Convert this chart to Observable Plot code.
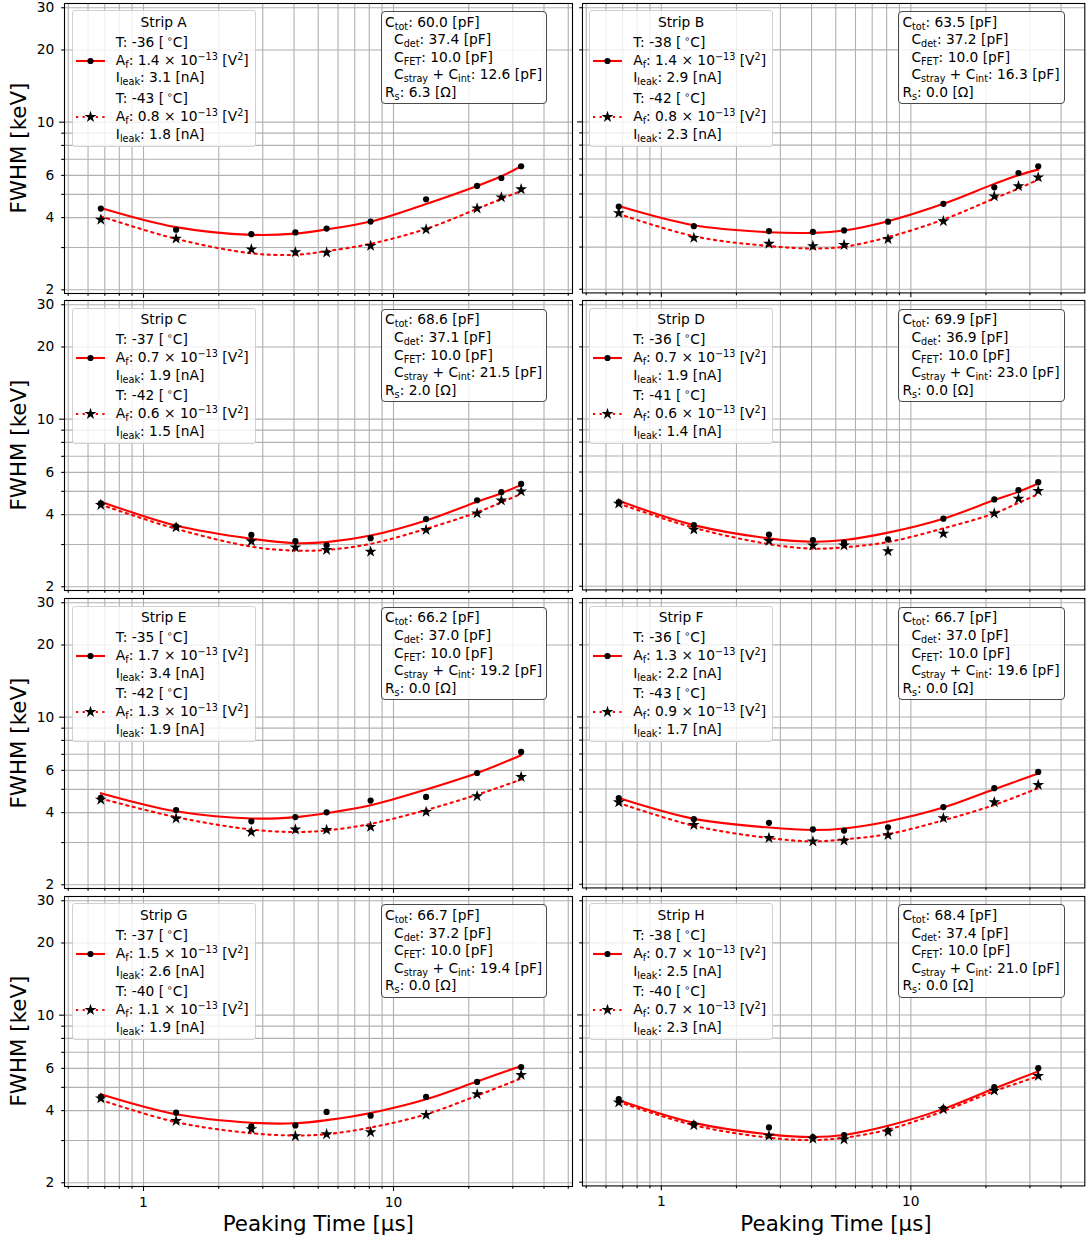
<!DOCTYPE html>
<html><head><meta charset="utf-8">
<script src="https://cdn.jsdelivr.net/npm/d3@7"></script>
<script src="https://cdn.jsdelivr.net/npm/@observablehq/plot@0.6"></script>
<style>
body{margin:0;background:#fff;}
#fig{position:relative;width:1086px;height:1243px;overflow:hidden;background:#fff;font-family:"DejaVu Sans",sans-serif;color:#000;}
.panel{position:absolute;}
.leg{position:absolute;box-sizing:border-box;background:rgba(255,255,255,0.8);border:1px solid #d0d0d0;border-radius:3px;}
.cbox{position:absolute;box-sizing:border-box;background:rgba(255,255,255,0.85);border:1px solid #4a4a4a;border-radius:4px;}
.t{position:absolute;font-size:13.8px;line-height:18px;height:18px;white-space:nowrap;}
.t sub{font-size:0.7em;vertical-align:-0.3em;line-height:0;}
.t sup{font-size:0.7em;vertical-align:0.5em;line-height:0;}
.ylab{position:absolute;font-size:21.4px;line-height:24px;transform:translate(-50%,-50%) rotate(-90deg);white-space:nowrap;}
.xlab{position:absolute;font-size:21.4px;line-height:24px;transform:translate(-50%,-50%);white-space:nowrap;}
.hd{position:absolute;overflow:visible;}
</style></head><body><div id="fig"></div>
<script>
// ---------------- data ----------------
const peakingTime10 = [0.675, 1.35, 2.7, 4.05, 5.4, 8.1, 13.5, 21.6, 27, 32.4];
const peakingTime9  = [0.675, 1.35, 2.7, 4.05, 5.4, 8.1, 13.5, 21.6, 32.4];

const measWarmA = [4.36, 3.56, 3.41, 3.47, 3.60, 3.85, 4.77, 5.42, 5.85, 6.55];
const measColdA = [3.92, 3.27, 2.95, 2.87, 2.86, 3.05, 3.57, 4.37, 4.86, 5.25];
const fitWarmA  = [4.39, 3.65, 3.39, 3.43, 3.57, 3.85, 4.56, 5.42, 5.95, 6.55];
const fitColdA  = [4.05, 3.26, 2.84, 2.80, 2.90, 3.11, 3.59, 4.35, 4.79, 5.17];

const measWarmB = [4.43, 3.67, 3.50, 3.47, 3.52, 3.83, 4.55, 5.33, 6.12, 6.53];
const measColdB = [4.16, 3.28, 3.10, 3.03, 3.06, 3.24, 3.85, 4.89, 5.39, 5.87];
const fitWarmB  = [4.45, 3.70, 3.46, 3.44, 3.52, 3.85, 4.55, 5.51, 5.99, 6.32];
const fitColdB  = [4.13, 3.33, 3.03, 2.96, 3.01, 3.30, 3.91, 4.79, 5.27, 5.74];

const measWarmC = [4.46, 3.57, 3.29, 3.10, 2.98, 3.19, 3.83, 4.59, 4.96, 5.37];
const measColdC = [4.39, 3.54, 3.10, 2.92, 2.85, 2.80, 3.45, 4.05, 4.58, 5.00];
const fitWarmC  = [4.53, 3.60, 3.17, 3.04, 3.07, 3.27, 3.78, 4.53, 4.91, 5.32];
const fitColdC  = [4.40, 3.49, 2.94, 2.83, 2.85, 3.02, 3.49, 4.09, 4.50, 4.88];

const measWarmD = [4.49, 3.60, 3.29, 3.12, 3.04, 3.14, 3.83, 4.61, 5.04, 5.44];
const measColdD = [4.43, 3.45, 3.09, 2.96, 2.96, 2.80, 3.32, 4.03, 4.64, 5.00];
const fitWarmD  = [4.55, 3.60, 3.17, 3.07, 3.12, 3.35, 3.83, 4.58, 4.96, 5.37];
const fitColdD  = [4.43, 3.51, 3.00, 2.87, 2.91, 3.06, 3.49, 4.03, 4.46, 4.85];

const measWarmE = [4.61, 4.10, 3.68, 3.83, 4.01, 4.49, 4.65, 5.85, 7.16];
const measColdE = [4.53, 3.78, 3.32, 3.40, 3.39, 3.49, 4.03, 4.68, 5.63];
const fitWarmE  = [4.82, 4.05, 3.78, 3.83, 3.98, 4.29, 4.99, 5.85, 6.94];
const fitColdE  = [4.58, 3.83, 3.40, 3.32, 3.37, 3.59, 4.10, 4.75, 5.49];

const measWarmF = [4.58, 3.74, 3.61, 3.39, 3.35, 3.46, 4.20, 5.04, 5.89];
const measColdF = [4.40, 3.54, 3.12, 3.02, 3.04, 3.21, 3.78, 4.40, 5.20];
const fitWarmF  = [4.58, 3.75, 3.45, 3.37, 3.42, 3.66, 4.18, 4.99, 5.80];
const fitColdF  = [4.37, 3.51, 3.12, 3.02, 3.08, 3.24, 3.70, 4.29, 5.04];

const measWarmG = [4.56, 3.92, 3.44, 3.47, 3.95, 3.81, 4.56, 5.27, 6.08];
const measColdG = [4.50, 3.62, 3.35, 3.13, 3.19, 3.25, 3.84, 4.68, 5.63];
const fitWarmG  = [4.68, 3.86, 3.56, 3.54, 3.65, 3.91, 4.46, 5.29, 6.14];
const fitColdG  = [4.43, 3.58, 3.22, 3.15, 3.19, 3.40, 3.86, 4.62, 5.45];

const measWarmH = [4.45, 3.51, 3.39, 3.09, 3.15, 3.29, 4.07, 4.99, 5.99];
const measColdH = [4.31, 3.46, 3.13, 3.04, 3.02, 3.25, 4.04, 4.83, 5.56];
const fitWarmH  = [4.40, 3.54, 3.17, 3.09, 3.15, 3.44, 4.05, 4.93, 5.81];
const fitColdH  = [4.33, 3.46, 3.07, 3.00, 3.07, 3.32, 3.96, 4.80, 5.54];

const stripNames = ["Strip A","Strip B","Strip C","Strip D","Strip E","Strip F","Strip G","Strip H"];
const tempWarm   = ["-36","-38","-37","-36","-35","-36","-37","-38"];
const tempCold   = ["-43","-42","-42","-41","-42","-43","-40","-40"];
const afWarm     = ["1.4","1.4","0.7","0.7","1.7","1.3","1.5","0.7"];
const afCold     = ["0.8","0.8","0.6","0.6","1.3","0.9","1.1","0.7"];
const ileakWarm  = ["3.1","2.9","1.9","1.9","3.4","2.2","2.6","2.5"];
const ileakCold  = ["1.8","2.3","1.5","1.4","1.9","1.7","1.9","2.3"];
const cTot       = ["60.0","63.5","68.6","69.9","66.2","66.7","66.7","68.4"];
const cDet       = ["37.4","37.2","37.1","36.9","37.0","37.0","37.2","37.4"];
const cFet       = ["10.0","10.0","10.0","10.0","10.0","10.0","10.0","10.0"];
const cStrayInt  = ["12.6","16.3","21.5","23.0","19.2","19.6","19.4","21.0"];
const rSeries    = ["6.3","0.0","2.0","0.0","0.0","0.0","0.0","0.0"];

const xMajorTicks = [1, 10];
const xMinorTicks = [0.5, 0.6, 0.7, 0.8, 0.9, 2, 3, 4, 5, 6, 7, 8, 9, 20, 30, 40, 50];
const yMajorTicks = [10];
const yMinorTicks = [2, 3, 4, 5, 6, 7, 8, 9, 20, 30];
const yTickLabels = [2, 4, 6, 8, 10, 20, 30];
const xTickLabels = [1, 10];

// -------------- layout ---------------
const frameLeft = [64.3, 581.7];
const frameWidth = [508, 503.3];
const frameTop0 = 2.6, rowStep = 297.8, frameHeight = 290;
const xDomains = [[0.483, 52], [0.483, 49.8]];
const yDomain = [1.93, 31.25];
const gridColor = "#b0b0b0";
const dotR = 3.1, starR = 3.7, dotted = "2.2,4.4";

const strips = [
  {times: peakingTime10, mw: measWarmA, mc: measColdA, fw: fitWarmA, fc: fitColdA},
  {times: peakingTime10, mw: measWarmB, mc: measColdB, fw: fitWarmB, fc: fitColdB},
  {times: peakingTime10, mw: measWarmC, mc: measColdC, fw: fitWarmC, fc: fitColdC},
  {times: peakingTime10, mw: measWarmD, mc: measColdD, fw: fitWarmD, fc: fitColdD},
  {times: peakingTime9,  mw: measWarmE, mc: measColdE, fw: fitWarmE, fc: fitColdE},
  {times: peakingTime9,  mw: measWarmF, mc: measColdF, fw: fitWarmF, fc: fitColdF},
  {times: peakingTime9,  mw: measWarmG, mc: measColdG, fw: fitWarmG, fc: fitColdG},
  {times: peakingTime9,  mw: measWarmH, mc: measColdH, fw: fitWarmH, fc: fitColdH}
];

const fig = document.getElementById("fig");
const toRows = (ts, vs) => ts.map((t, k) => ({t, fwhm: vs[k]}));

function addText(html, left, cy, cls = "t") {
  const d = document.createElement("div");
  d.className = cls;
  d.innerHTML = html;
  d.style.left = left + "px";
  d.style.top = (cy - 9) + "px";
  fig.appendChild(d);
  return d;
}

function addHandle(x, cy, isDotted, star) {
  const svg = d3.create("svg").attr("class", "hd").attr("width", 40).attr("height", 16)
    .style("left", (x - 2) + "px").style("top", (cy - 8) + "px");
  svg.append("line").attr("x1", 2).attr("x2", 31).attr("y1", 8).attr("y2", 8)
    .attr("stroke", "red").attr("stroke-width", 2.1)
    .attr("stroke-dasharray", isDotted ? dotted : null);
  if (star) {
    svg.append("path").attr("transform", "translate(16.5,8)")
      .attr("d", d3.symbol(d3.symbolStar, Math.PI * starR * starR)()).attr("fill", "black");
  } else {
    svg.append("circle").attr("cx", 16.5).attr("cy", 8).attr("r", dotR).attr("fill", "black");
  }
  fig.appendChild(svg.node());
}

strips.forEach((s, i) => {
  const col = i % 2, row = Math.floor(i / 2);
  const fl = frameLeft[col], fw = frameWidth[col];
  const ft = frameTop0 + row * rowStep, fh = frameHeight;
  const ml = col === 0 ? 62 : 10, mr = 2, mt = 4, mb = 30;
  const xd = xDomains[col];
  const inX = v => v >= xd[0] && v <= xd[1];
  const bottomRow = row === 3;

  const chart = Plot.plot({
    width: ml + fw + mr, height: mt + fh + mb,
    marginLeft: ml, marginRight: mr, marginTop: mt, marginBottom: mb,
    style: {background: "transparent", overflow: "visible", fontFamily: "DejaVu Sans", fontSize: "13.8px", color: "black"},
    x: {type: "log", domain: xd, label: null},
    y: {type: "log", domain: yDomain, label: null},
    marks: [
      Plot.gridX(xMajorTicks.concat(xMinorTicks).filter(inX), {stroke: gridColor, strokeOpacity: 1, strokeWidth: 1.1}),
      Plot.gridY(yMajorTicks.concat(yMinorTicks), {stroke: gridColor, strokeOpacity: 1, strokeWidth: 1.1}),
      Plot.line(toRows(s.times, s.fw), {x: "t", y: "fwhm", stroke: "red", strokeWidth: 2.1, curve: "catmull-rom"}),
      Plot.line(toRows(s.times, s.fc), {x: "t", y: "fwhm", stroke: "red", strokeWidth: 2.1, strokeDasharray: dotted, curve: "catmull-rom"}),
      Plot.dot(toRows(s.times, s.mw), {x: "t", y: "fwhm", r: dotR, fill: "black", symbol: "circle"}),
      Plot.dot(toRows(s.times, s.mc), {x: "t", y: "fwhm", r: starR, fill: "black", symbol: "star"}),
      Plot.frame({stroke: "black", strokeWidth: 1.1}),
      Plot.axisY(yMajorTicks, {tickSize: 4.9, tickPadding: 5.4, strokeWidth: 1.1, label: null,
        tickFormat: d => (col === 0 && yTickLabels.includes(d)) ? String(d) : ""}),
      Plot.axisY(yMinorTicks, {tickSize: 2.8, tickPadding: 7.5, strokeWidth: 1.1, label: null,
        tickFormat: d => (col === 0 && yTickLabels.includes(d)) ? String(d) : ""}),
      Plot.axisX(xMajorTicks.filter(inX), {tickSize: 4.9, tickPadding: 5.4, strokeWidth: 1.1, label: null,
        tickFormat: d => (bottomRow && xTickLabels.includes(d)) ? String(d) : ""}),
      Plot.axisX(xMinorTicks.filter(inX), {tickSize: 2.8, tickPadding: 5, strokeWidth: 1.1, label: null,
        tickFormat: () => ""})
    ]
  });
  const wrap = document.createElement("div");
  wrap.className = "panel";
  wrap.style.left = (fl - ml) + "px";
  wrap.style.top = (ft - mt) + "px";
  wrap.appendChild(chart);
  fig.appendChild(wrap);

  // legend box (left)
  const lg = document.createElement("div");
  lg.className = "leg";
  Object.assign(lg.style, {left: (fl + 7.4) + "px", top: (ft + 7.3) + "px", width: "184.3px", height: "136.7px"});
  fig.appendChild(lg);
  const tl = addText(stripNames[i], fl + 99.4, ft + 19);
  tl.style.transform = "translateX(-50%)";
  const tx = fl + 51.5;
  addText(`T: ${tempWarm[i]} [&thinsp;<sup>∘</sup>C]`, tx, ft + 39);
  addText(`A<sub>f</sub>: ${afWarm[i]} × 10<sup>−13</sup> [V<sup>2</sup>]`, tx, ft + 57);
  addText(`I<sub>leak</sub>: ${ileakWarm[i]} [nA]`, tx, ft + 74.5);
  addText(`T: ${tempCold[i]} [&thinsp;<sup>∘</sup>C]`, tx, ft + 95);
  addText(`A<sub>f</sub>: ${afCold[i]} × 10<sup>−13</sup> [V<sup>2</sup>]`, tx, ft + 113);
  addText(`I<sub>leak</sub>: ${ileakCold[i]} [nA]`, tx, ft + 131);
  addHandle(fl + 11.7, ft + 58, false, false);
  addHandle(fl + 11.7, ft + 114, true, true);

  // capacitance box (right)
  const cb = document.createElement("div");
  cb.className = "cbox";
  Object.assign(cb.style, {left: (fl + 316.4) + "px", top: (ft + 8.3) + "px", width: "166.6px", height: "93.3px"});
  fig.appendChild(cb);
  addText(`C<sub>tot</sub>: ${cTot[i]} [pF]`, fl + 320.7, ft + 19);
  addText(`C<sub>det</sub>: ${cDet[i]} [pF]`, fl + 329.7, ft + 36.6);
  addText(`C<sub>FET</sub>: ${cFet[i]} [pF]`, fl + 329.7, ft + 54.3);
  addText(`C<sub>stray</sub> + C<sub>int</sub>: ${cStrayInt[i]} [pF]`, fl + 329.7, ft + 71.6);
  addText(`R<sub>s</sub>: ${rSeries[i]} [Ω]`, fl + 320.7, ft + 89.3);

  if (col === 0) {
    const yl = document.createElement("div");
    yl.className = "ylab";
    yl.textContent = "FWHM [keV]";
    yl.style.left = "19px";
    yl.style.top = (ft + fh / 2) + "px";
    fig.appendChild(yl);
  }
});

["Peaking Time [μs]", "Peaking Time [μs]"].forEach((txt, c) => {
  const xl = document.createElement("div");
  xl.className = "xlab";
  xl.textContent = txt;
  xl.style.left = (c === 0 ? 318.3 : 836) + "px";
  xl.style.top = "1224px";
  fig.appendChild(xl);
});
</script></body></html>
